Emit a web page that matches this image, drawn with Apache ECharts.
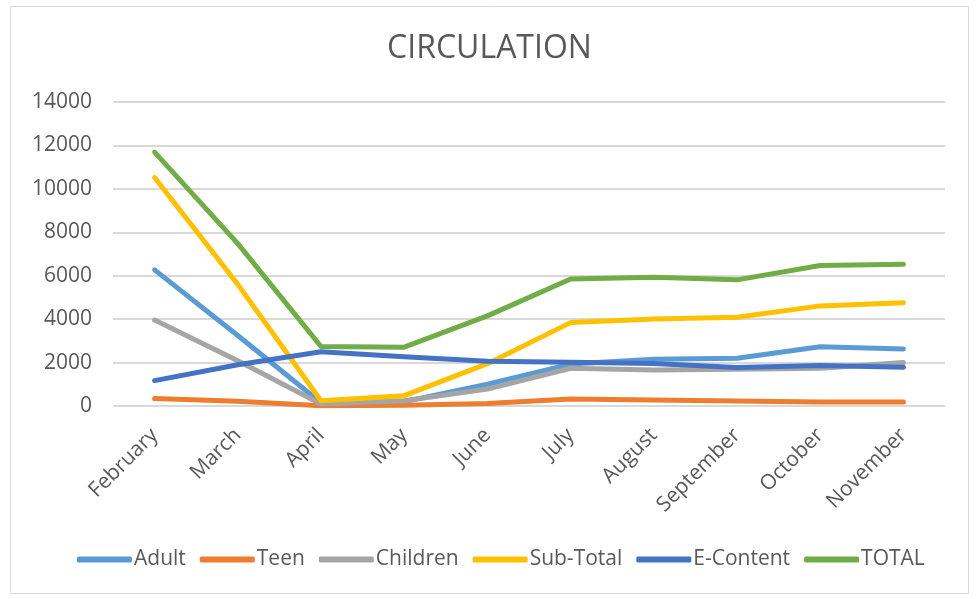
<!DOCTYPE html>
<html>
<head>
<meta charset="utf-8">
<script src="https://cdn.jsdelivr.net/npm/echarts@6/dist/echarts.min.js"></script>
<style>
  html, body { margin: 0; padding: 0; background: #fff; }
  #circulation { width: 979px; height: 599px; }
</style>
</head>
<body>
<div id="circulation"></div>
<script>
const months = ['February', 'March', 'April', 'May', 'June', 'July', 'August', 'September', 'October', 'November'];
const adult = [6270, 3250, 150, 200, 1000, 1930, 2150, 2200, 2730, 2630];
const teen = [340, 220, 10, 30, 120, 320, 280, 230, 185, 185];
const children = [3960, 2080, 90, 245, 780, 1740, 1660, 1690, 1740, 2000];
const subTotal = [10520, 5600, 245, 475, 1950, 3840, 4010, 4090, 4610, 4760];
const eContent = [1170, 1900, 2500, 2270, 2060, 2010, 1960, 1770, 1870, 1780];
const total = [11690, 7480, 2740, 2710, 4150, 5850, 5930, 5810, 6470, 6530];

const font = 'Open Sans';
const textColor = '#595959';

const mkLine = (name, data, color) => ({
    name: name,
    type: 'line',
    data: data,
    showSymbol: false,
    symbol: 'none',
    color: color,
    lineStyle: { width: 5, color: color, cap: 'round', join: 'round' }
});

const chart = echarts.init(document.getElementById('circulation'), null, { renderer: 'canvas' });
const option = {
    animation: false,
    backgroundColor: '#fff',
    graphic: [{
        type: 'rect',
        shape: { x: 10.5, y: 6.5, width: 958, height: 587 },
        style: { fill: 'none', stroke: '#d9d9d9', lineWidth: 1 },
        silent: true
    }],
    title: {
        text: 'CIRCULATION',
        left: 'center',
        top: 28,
        textStyle: { fontFamily: font, fontWeight: 'normal', fontSize: 32, color: textColor }
    },
    legend: {
        bottom: 24,
        left: 72,
        icon: 'roundRect',
        itemWidth: 55,
        itemHeight: 6,
        itemGap: 14,
        textStyle: { fontFamily: font, fontSize: 21, color: textColor, padding: [0, 0, 0, -3] },
        data: ['Adult', 'Teen', 'Children', 'Sub-Total', 'E-Content', 'TOTAL']
    },
    grid: { left: 113, right: 34, top: 102, bottom: 193, containLabel: false },
    xAxis: {
        type: 'category',
        data: months,
        boundaryGap: true,
        axisLine: { show: false },
        axisTick: { show: false },
        axisLabel: { rotate: 45, fontFamily: font, fontSize: 21, color: textColor, margin: 26 }
    },
    yAxis: {
        type: 'value',
        min: 0,
        max: 14000,
        interval: 2000,
        axisLine: { show: false },
        axisTick: { show: false },
        axisLabel: { fontFamily: font, fontSize: 21, color: textColor, margin: 21, formatter: v => String(v) },
        splitLine: { lineStyle: { color: '#d9d9d9', width: 2 } }
    },
    series: [
        mkLine('Adult', adult, '#5B9BD5'),
        mkLine('Teen', teen, '#ED7D31'),
        mkLine('Children', children, '#A5A5A5'),
        mkLine('Sub-Total', subTotal, '#FFC000'),
        mkLine('E-Content', eContent, '#4472C4'),
        mkLine('TOTAL', total, '#70AD47')
    ]
};
chart.setOption(option);
</script>
</body>
</html>
